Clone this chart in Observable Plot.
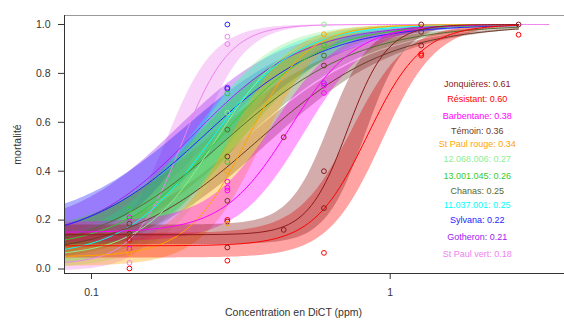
<!DOCTYPE html>
<html><head><meta charset="utf-8">
<script src="https://cdn.jsdelivr.net/npm/d3@7"></script>
<script src="https://cdn.jsdelivr.net/npm/@observablehq/plot@0.6"></script>
<style>
html,body{margin:0;padding:0;background:#fff;}
</style>
</head><body><div id="chart"></div>
<script>
// ---- strains (legend order) ----
const strains = ["Jonquières","Résistant","Barbentane","Témoin","St Paul rouge","12.068.006","13.001.045","Chanas","11.037.001","Sylvana","Gotheron","St Paul vert"];
const colors  = ["#8B1A1A","#FF0000","#FF00FF","#6B3A2A","#FFA500","#90EE90","#33CC33","#556B2F","#00FFFF","#2222FF","#A020F0","#EE82EE"];
const lc50    = [0.61,0.60,0.38,0.36,0.34,0.27,0.26,0.25,0.25,0.22,0.21,0.18];
const labelY  = [0.755,0.693,0.625,0.562,0.51,0.448,0.378,0.317,0.26,0.202,0.129,0.059];
// fitted curve parameters: lower asymptote, mid concentration, slope (per log10), band half-widths
const lower   = [0.14,0.095,0.15,0.05,0.05,0.05,0.08,0.05,0.05,0.10,0.10,0.02];
const mid     = [0.72,0.84,0.46,0.36,0.33,0.26,0.27,0.28,0.25,0.24,0.22,0.20];
const slope   = [15,11,9,4.5,10,8,6,4.5,7,5,5.5,12.5];
const bandLog = [0.06,0.05,0.05,0.035,0.05,0.06,0.06,0.045,0.06,0.06,0.055,0.05];
const bandLow = [0.04,0.05,0.04,0.025,0.04,0.05,0.06,0.04,0.05,0.07,0.05,0.03];
const curveMax= [2.69,2.69,2.69,2.69,2.69,2.69,2.69,2.69,2.69,2.69,2.69,3.4];
// drawing order (first drawn at the bottom)
const drawOrder = ["St Paul vert","Gotheron","Sylvana","11.037.001","Témoin","Chanas","12.068.006","13.001.045","St Paul rouge","Barbentane","Résistant","Jonquières"];

// ---- observed points ----
const ptStrain = [
 "13.001.045","Barbentane","Témoin","Jonquières","Chanas","Résistant","Barbentane","St Paul rouge","St Paul vert","Résistant",
 "Sylvana","St Paul vert","St Paul vert","Gotheron","Sylvana","13.001.045","12.068.006","Chanas","Témoin","13.001.045","St Paul rouge","Barbentane","Barbentane","Barbentane","Témoin","Résistant","Jonquières","St Paul rouge","Jonquières","Résistant",
 "Jonquières","Jonquières",
 "12.068.006","St Paul rouge","13.001.045","Chanas","Témoin","Gotheron","Barbentane","Barbentane","Jonquières","Jonquières","Résistant",
 "Jonquières","Témoin","Jonquières","Résistant","Résistant",
 "Jonquières","Résistant"];
const ptConc = [
 0.134,0.134,0.134,0.134,0.134,0.134,0.134,0.134,0.134,0.134,
 0.285,0.285,0.285,0.285,0.285,0.285,0.285,0.285,0.285,0.285,0.285,0.285,0.285,0.285,0.285,0.285,0.285,0.285,0.285,0.285,
 0.44,0.44,
 0.6,0.6,0.6,0.6,0.6,0.6,0.6,0.6,0.6,0.6,0.6,
 1.27,1.27,1.27,1.27,1.27,
 2.69,2.69];
const ptMort = [
 0.243,0.211,0.185,0.144,0.138,0.119,0.083,0.065,0.025,0.002,
 1.0,0.95,0.92,0.742,0.737,0.718,0.639,0.57,0.46,0.438,0.40,0.357,0.332,0.321,0.279,0.201,0.194,0.186,0.088,0.034,
 0.539,0.16,
 1.0,0.96,0.915,0.873,0.832,0.76,0.75,0.72,0.40,0.249,0.066,
 1.0,0.97,0.914,0.88,0.873,
 1.0,0.958];

// ---- axes ----
const xTicks = [0.1, 1];
const xTickLabels = ["0.1", "1"];
const yTicks = [0, 0.2, 0.4, 0.6, 0.8, 1.0];
const xDomain = [0.08121, 3.833];
const yDomain = [-0.0184, 1.0368];

const colorOf = Object.fromEntries(strains.map((s,i)=>[s,colors[i]]));

// model curves (log-logistic with lower asymptote)
function model(lx, c, lm, b){ return c + (1-c)/(1+Math.exp(-b*(lx-lm))); }
const curves = [];
strains.forEach((s,i)=>{
  const lo = Math.log10(xDomain[0]), hi = Math.log10(curveMax[i]);
  const lm = Math.log10(mid[i]);
  const n = 160;
  for(let k=0;k<=n;k++){
    const lx = lo + (hi-lo)*k/n;
    curves.push({
      strain:s, x:Math.pow(10,lx),
      y: model(lx, lower[i], lm, slope[i]),
      y1: model(lx, lower[i]-bandLow[i], lm+bandLog[i], slope[i]),
      y2: Math.min(1, model(lx, lower[i]+bandLow[i], lm-bandLog[i], slope[i]))
    });
  }
});
const points = ptConc.map((c,i)=>({x:c, y:ptMort[i], strain:ptStrain[i]}));
const labels = strains.map((s,i)=>({x:1.955, y:labelY[i], text:`${s}: ${lc50[i].toFixed(2)}`, color:colors[i]}));

const order = drawOrder.map(s=>strains.indexOf(s));

const chart = Plot.plot({
  width:564, height:329,
  marginLeft:64, marginRight:0, marginTop:15, marginBottom:56,
  style:{fontFamily:"'Liberation Sans', Arial, sans-serif", fontSize:"10.5px", color:"#333", background:"#fff"},
  x:{type:"log", domain:xDomain},
  y:{domain:yDomain},
  marks:[
    ...order.map(i=>Plot.areaY(curves.filter(d=>d.strain===strains[i]), {x:"x", y1:"y1", y2:"y2", fill:colors[i], fillOpacity:0.36, clip:true})),
    ...order.map(i=>Plot.line(curves.filter(d=>d.strain===strains[i]), {x:"x", y:"y", stroke:colors[i], strokeWidth:1, clip:true})),
    Plot.dot(points, {x:"x", y:"y", r:2.4, stroke:d=>colorOf[d.strain], strokeWidth:1, fill:"none"}),
    Plot.text(labels, {x:"x", y:"y", text:"text", fill:"color", fontSize:9, textAnchor:"middle"}),
    Plot.ruleY([yDomain[1]], {stroke:"#999", strokeWidth:1.2}),
    Plot.ruleX([xDomain[0]], {stroke:"#333", strokeWidth:1}),
    Plot.ruleY([yDomain[0]], {stroke:"#333", strokeWidth:1}),
    Plot.axisX({ticks:xTicks, tickFormat:(d)=>xTickLabels[xTicks.indexOf(d)], tickSize:6, tickPadding:9, label:null, stroke:"#333"}),
    Plot.axisY({ticks:yTicks, tickFormat:d3.format(".1f"), tickSize:6, tickPadding:8, label:null, stroke:"#333"}),
    Plot.text(["Concentration en DiCT (ppm)"], {frameAnchor:"bottom-left", dx:229, dy:42, text:d=>d, fontSize:10.5, textAnchor:"middle", fill:"#333"}),
    Plot.text(["mortalité"], {frameAnchor:"left", dx:-47, text:d=>d, fontSize:10.5, rotate:-90, textAnchor:"middle", fill:"#333"})
  ]
});
document.getElementById("chart").appendChild(chart);
</script>
</body></html>
